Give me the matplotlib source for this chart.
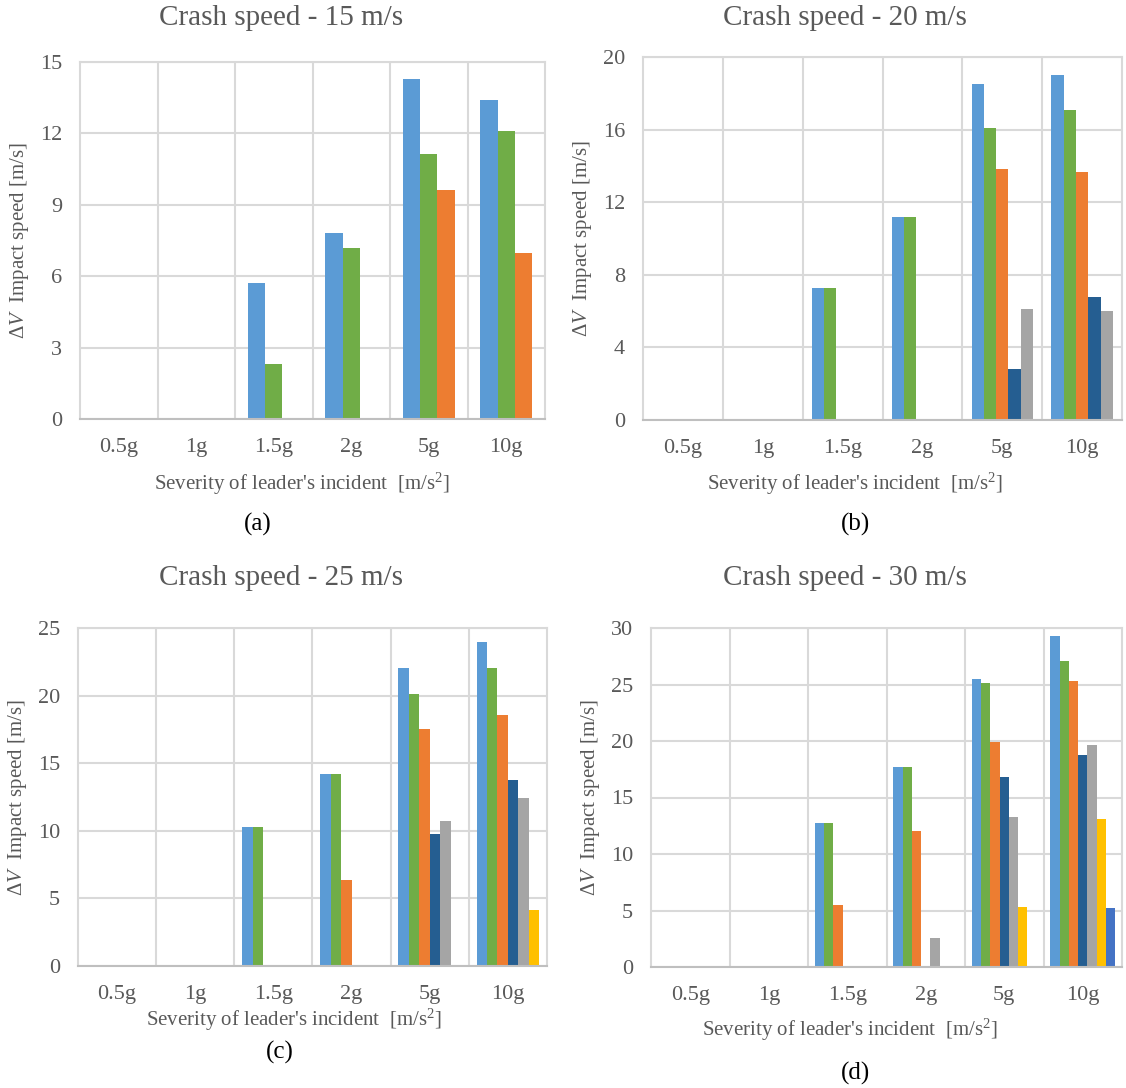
import matplotlib
matplotlib.use('Agg')
import matplotlib.pyplot as plt
import numpy as np

categories = ['0.5g', '1g', '1.5g', '2g', '5g', '10g']
colors = ['#5B9BD5', '#70AD47', '#ED7D31', '#255E91', '#A5A5A5', '#FFC000', '#4472C4']

# one list per series, values per category
speed_15 = [
    [0, 0, 5.7, 7.81, 14.3, 13.4],
    [0, 0, 2.3, 7.18, 11.12, 12.1],
    [0, 0, 0, 0, 9.61, 6.96],
]
speed_20 = [
    [0, 0, 7.26, 11.18, 18.5, 19.0],
    [0, 0, 7.26, 11.18, 16.1, 17.1],
    [0, 0, 0, 0, 13.84, 13.64],
    [0, 0, 0, 0, 2.83, 6.76],
    [0, 0, 0, 0, 6.12, 5.99],
]
speed_25 = [
    [0, 0, 10.29, 14.2, 22.06, 23.97],
    [0, 0, 10.29, 14.2, 20.1, 22.06],
    [0, 0, 0, 6.37, 17.55, 18.55],
    [0, 0, 0, 0, 9.8, 13.73],
    [0, 0, 0, 0, 10.69, 12.45],
    [0, 0, 0, 0, 0, 4.12],
]
speed_30 = [
    [0, 0, 12.75, 17.69, 25.46, 29.32],
    [0, 0, 12.75, 17.69, 25.17, 27.11],
    [0, 0, 5.5, 12.04, 19.9, 25.35],
    [0, 0, 0, 0, 16.78, 18.75],
    [0, 0, 0, 2.56, 13.28, 19.69],
    [0, 0, 0, 0, 5.33, 13.1],
    [0, 0, 0, 0, 0, 5.24],
]

titles = ['Crash speed - 15 m/s', 'Crash speed - 20 m/s',
          'Crash speed - 25 m/s', 'Crash speed - 30 m/s']
y_max = [15, 20, 25, 30]
y_step = [3, 4, 5, 5]
captions = ['(a)', '(b)', '(c)', '(d)']

plt.rcParams['font.family'] = ['Liberation Serif', 'DejaVu Serif']
plt.rcParams['mathtext.fontset'] = 'custom'
plt.rcParams['mathtext.rm'] = 'Liberation Serif'
plt.rcParams['mathtext.it'] = 'Liberation Serif:italic'

W, H = 1126, 1088
fig = plt.figure(figsize=(W / 100, H / 100), dpi=100)

# axes boxes in pixels: left, top, right, bottom
boxes = [(80, 62, 545, 419), (643, 57, 1122, 420),
         (78, 628, 547, 966), (651, 628, 1122, 967)]
title_pos = [(281, 18), (845, 18), (281, 578), (845, 578)]
xlabel_pos = [(302, 484), (855, 484), (294, 1020), (850, 1030)]
caption_pos = [(258, 524), (855, 524), (280, 1052), (855, 1073)]
text_gray = '#595959'

for k, data in enumerate([speed_15, speed_20, speed_25, speed_30]):
    l, t, r, b = boxes[k]
    ax = fig.add_axes([l / W, 1 - b / H, (r - l) / W, (b - t) / H])
    n = len(data)
    w = 1 / (n + 1.5)
    x = np.arange(len(categories))
    for i, vals in enumerate(data):
        off = -0.5 + 0.75 * w + (i + 0.5) * w
        ax.bar(x + off, vals, width=w, color=colors[i], linewidth=0, zorder=3)

    ax.set_xlim(-0.5, len(categories) - 0.5)
    ax.set_ylim(0, y_max[k])
    ax.set_yticks(np.arange(0, y_max[k] + 0.1, y_step[k]))
    ax.set_xticks(x)
    ax.set_xticklabels(categories)
    ax.set_xticks(np.arange(0.5, len(categories) - 0.5), minor=True)
    ax.grid(True, axis='y', color='#D9D9D9', linewidth=1.5, zorder=0)
    ax.grid(True, axis='x', which='minor', color='#D9D9D9', linewidth=1.5, zorder=0)
    ax.tick_params(axis='both', which='both', length=0, labelsize=16, colors=text_gray)
    ax.tick_params(axis='x', pad=14)
    ax.tick_params(axis='y', pad=13)
    for s in ['top', 'right', 'left']:
        ax.spines[s].set_color('#D9D9D9')
        ax.spines[s].set_linewidth(1.5)
    ax.spines['bottom'].set_color('#BFBFBF')
    ax.spines['bottom'].set_linewidth(1.5)
    ax.spines['bottom'].set_zorder(4)

    ax.set_ylabel(r'$\Delta V$  Impact speed [m/s]', fontsize=15, color=text_gray, labelpad=6)
    tx, ty = title_pos[k]
    fig.text(tx / W, 1 - ty / H, titles[k],
             ha='center', va='center', fontsize=21, color=text_gray)
    lx, ly = xlabel_pos[k]
    fig.text(lx / W, 1 - ly / H,
             r"Severity of leader's incident  [m/s$^2$]",
             ha='center', va='center', fontsize=15, color=text_gray)
    cx, cy = caption_pos[k]
    fig.text(cx / W, 1 - cy / H, captions[k], ha='center', va='center',
             fontsize=18, color='black')

fig.savefig('out.png', dpi=100)
